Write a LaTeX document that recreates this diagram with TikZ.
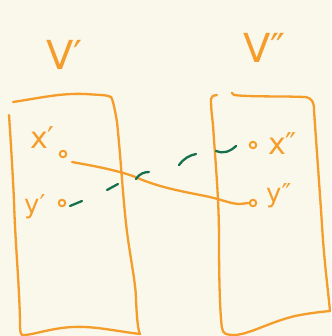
\documentclass[tikz,border=0pt]{standalone}
\usepackage{fontspec}
\newfontfamily\handfont{DejaVu Sans}
\usetikzlibrary{calc}
\definecolor{paper}{RGB}{250,247,235}
\definecolor{marker}{RGB}{244,157,42}
\definecolor{ink}{RGB}{22,112,78}
\begin{document}
\begin{tikzpicture}[x=1pt,y=-1pt,line cap=round,line join=round,
  stroke/.style={draw=marker,line width=2.3pt},
  gstroke/.style={draw=ink,line width=2.3pt},
  lbl/.style={text=marker,inner sep=0pt,anchor=base west},
  dot/.style={circle,draw=marker,line width=2pt,minimum size=6.5pt,inner sep=0pt}]
\fill[paper] (0,0) rectangle (331,336);
\useasboundingbox (0,0) rectangle (331,336);

% left set
\draw[stroke] (13,102) .. controls (40,98) and (60,93) .. (85,94)
  .. controls (100,95) and (108,95) .. (111,97)
  .. controls (113,100) and (115,110) .. (117,122)
  .. controls (121,160) and (123,200) .. (127,232)
  .. controls (131,262) and (136,285) .. (136,300)
  .. controls (137,320) and (138,330) .. (140,334);
\draw[stroke] (140,334) .. controls (115,331) and (95,326) .. (73,327)
  .. controls (50,328) and (30,336) .. (22,335)
  .. controls (20,333) and (20,330) .. (20,320)
  .. controls (19,280) and (15,240) .. (14,200)
  .. controls (12,160) and (10,130) .. (9,115);

% right set
\draw[stroke] (217,95) .. controls (214,95) and (211,96) .. (211,99)
  .. controls (211,110) and (212,115) .. (213,125)
  .. controls (216,170) and (219,200) .. (219,240)
  .. controls (219,280) and (220,315) .. (222,328)
  .. controls (223,334) and (226,335) .. (235,335)
  .. controls (250,334) and (270,322) .. (295,316)
  .. controls (310,313) and (320,312) .. (330,311);
\draw[stroke] (330,311) .. controls (328,290) and (324,260) .. (322,225)
  .. controls (319,180) and (316,140) .. (314,110)
  .. controls (314,102) and (312,98) .. (305,97)
  .. controls (280,96) and (250,97) .. (234,95) -- (232,93);

% set names
\node[lbl,font=\handfont\fontsize{40}{40}\selectfont] (vl) at (46,70) {V′};
\node[lbl,font=\handfont\fontsize{40}{40}\selectfont] (vr) at (243,63) {V″};

% points and their labels
\node[dot] (xa) at (63,154) {};
\node[dot] (ya) at (62,203) {};
\node[dot] (xb) at (253,145) {};
\node[dot] (yb) at (253,203) {};
\node[lbl,font=\handfont\fontsize{30}{30}\selectfont] (lxa) at (30,149) {x′};
\node[lbl,font=\handfont\fontsize{26}{26}\selectfont] (lya) at (24,213) {y′};
\node[lbl,font=\handfont\fontsize{30}{30}\selectfont] (lxb) at (268,155) {x″};
\node[lbl,font=\handfont\fontsize{26}{26}\selectfont] (lyb) at (266,202) {y″};

% map x' -> y''
\draw[stroke] ($(xa)+(9,8)$) .. controls (100,167) and (125,172) .. (140,179)
  .. controls (160,187) and (175,190) .. (200,195)
  .. controls (222,199) and (230,204) .. (240,204) -- (yb.west);

% dashed map y' -> x''
\draw[gstroke] ($(ya)+(8,3)$) -- (82,201)
  (107,190) -- (118,184)
  (136,179) .. controls (139,174) and (144,172) .. (149,172)
  (179,165) .. controls (183,159) and (190,155) .. (196,154)
  (216,151) .. controls (222,154) and (230,152) .. ($(xb)+(-17,1)$);
\end{tikzpicture}
\end{document}
